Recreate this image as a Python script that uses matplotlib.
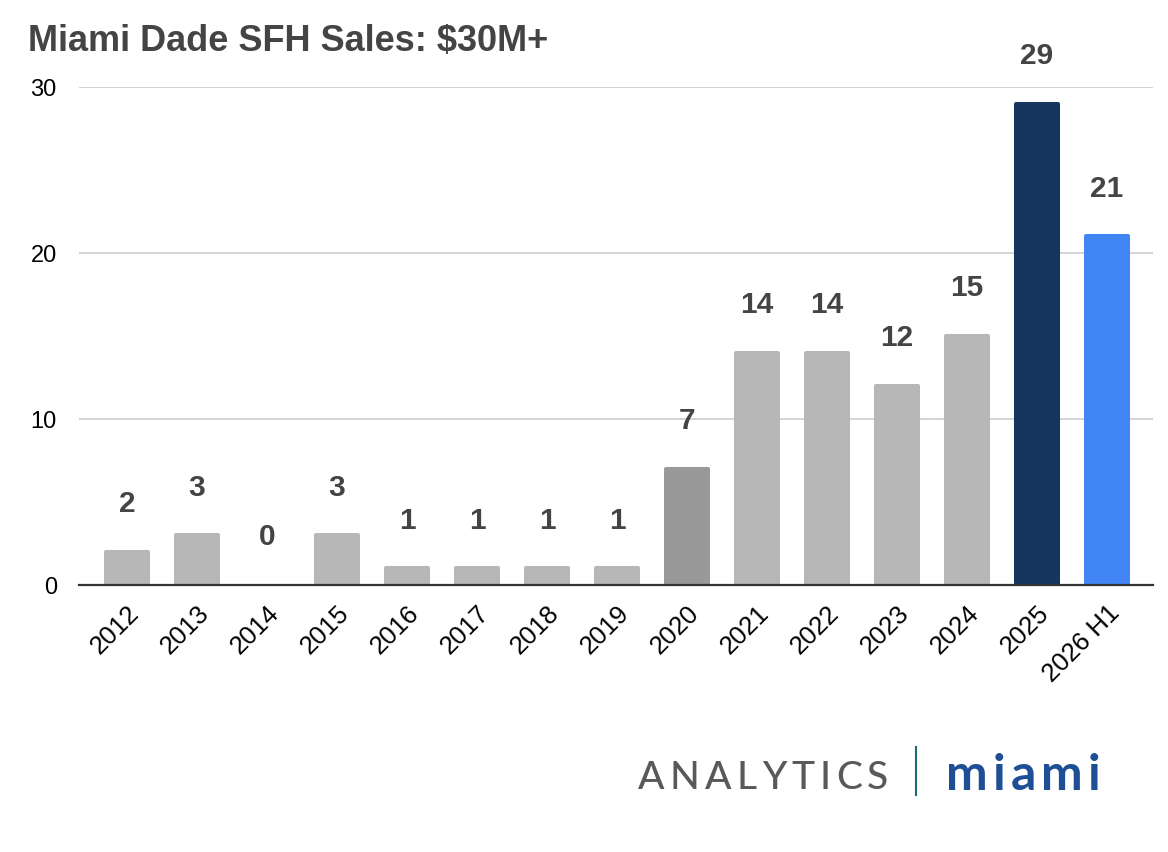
import matplotlib
matplotlib.use("Agg")
import matplotlib.pyplot as plt

categories = ["2012", "2013", "2014", "2015", "2016", "2017", "2018", "2019",
              "2020", "2021", "2022", "2023", "2024", "2025", "2026 H1"]
values = [2, 3, 0, 3, 1, 1, 1, 1, 7, 14, 14, 12, 15, 29, 21]
bar_colors = ["#b7b7b7"] * 8 + ["#999999"] + ["#b7b7b7"] * 4 + ["#15365f", "#4285f4"]
yticks = [0, 10, 20, 30]

W, H = 1168, 853
fig = plt.figure(figsize=(W / 100, H / 100), dpi=100)
ax = fig.add_axes([79 / W, 1 - 586 / H, (1153 - 79) / W, (586 - 88) / H])

x = list(range(len(categories)))
edge_w = [2.9 if v > 0 else 0 for v in values]
ax.bar(x, values, width=0.6, color=bar_colors, edgecolor=bar_colors,
       linewidth=edge_w, joinstyle="round", zorder=2)

for xi, v in zip(x, values):
    ax.annotate(str(v), (xi, v), xytext=(0, 35), textcoords="offset points",
                ha="center", va="center", fontsize=21.5, fontweight="bold",
                color="#444444", family="Liberation Sans", annotation_clip=False)

ax.set_xlim(-0.686, len(categories) - 1 + 0.657)
ax.set_ylim(0, 30)
ax.set_yticks(yticks)
ax.set_yticklabels([str(t) for t in yticks], fontsize=17, family="Liberation Sans", color="#000000")
ax.set_xticks(x)
ax.set_xticklabels(categories, rotation=45, ha="right", rotation_mode="anchor",
                   fontsize=18.5, family="Liberation Sans", color="#000000")
ax.tick_params(axis="both", length=0)
ax.tick_params(axis="y", pad=16)
ax.tick_params(axis="x", pad=11)
ax.grid(axis="y", color="#cccccc", linewidth=1.2, zorder=0)
ax.set_axisbelow(True)
for s in ["top", "right", "left"]:
    ax.spines[s].set_visible(False)
ax.spines["bottom"].set_color("#333333")
ax.spines["bottom"].set_linewidth(1.6)
ax.spines["bottom"].set_zorder(3)

fig.text(28 / W, 1 - 51 / H, "Miami Dade SFH Sales: $30M+", fontsize=26,
         fontweight="bold", color="#444444", family="Liberation Sans",
         ha="left", va="baseline")

# Logo
renderer = fig.canvas.get_renderer()

def spaced_word(word, x0, x1, ybase, **kw):
    widths = []
    texts = []
    for ch in word:
        t = fig.text(0, ybase, ch, ha="left", va="baseline", **kw)
        widths.append(t.get_window_extent(renderer).width)
        texts.append(t)
    gap = (x1 - x0 - sum(widths)) / (len(word) - 1)
    cx = x0
    for t, w in zip(texts, widths):
        t.set_x(cx / W)
        cx += w + gap

spaced_word("ANALYTICS", 638, 888, 1 - 789 / H, fontsize=28, family="Lato",
            color="#595959", fontweight="medium")
spaced_word("miami", 946, 1100, 1 - 790.5 / H, fontsize=36, family="Lato",
            color="#1e4f96", fontweight="bold")
fig.add_artist(plt.Line2D([915.5 / W, 915.5 / W], [1 - 796 / H, 1 - 748 / H],
                          color="#1d6b74", linewidth=1.5))

fig.savefig("out.png", dpi=100)
